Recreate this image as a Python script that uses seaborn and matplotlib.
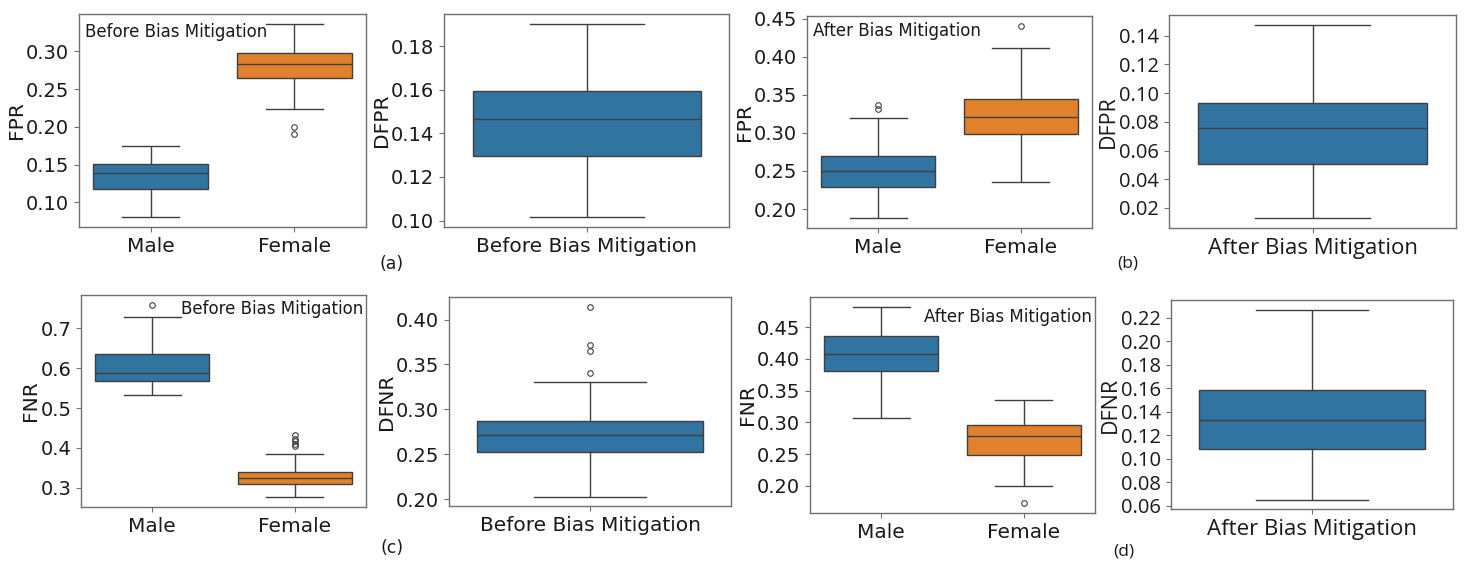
import matplotlib
matplotlib.use('Agg')
import matplotlib.pyplot as plt
import seaborn as sns
import pandas as pd
from matplotlib.ticker import MultipleLocator

# ---------------- data ----------------
genders = ['Male', 'Female']
before_label = 'Before Bias Mitigation'
after_label = 'After Bias Mitigation'

# (a) FPR before mitigation
fpr_before_male = [0.080, 0.098, 0.109, 0.117, 0.124, 0.132, 0.139, 0.143, 0.147, 0.151, 0.158, 0.166, 0.174]
fpr_before_female = [0.190, 0.1995, 0.2234, 0.2645, 0.270, 0.277, 0.2827, 0.287, 0.293, 0.2983, 0.310, 0.322, 0.3368]
dfpr_before = [0.1015, 0.112, 0.121, 0.1298, 0.135, 0.141, 0.1467, 0.151, 0.155, 0.1592, 0.168, 0.178, 0.1903]

# (b) FPR after mitigation
fpr_after_male = [0.1877, 0.205, 0.218, 0.2293, 0.236, 0.243, 0.2504, 0.256, 0.262, 0.2692, 0.3197, 0.332, 0.337]
fpr_after_female = [0.2359, 0.262, 0.281, 0.2987, 0.306, 0.314, 0.3214, 0.329, 0.337, 0.3447, 0.372, 0.4113, 0.4412]
dfpr_after = [0.0128, 0.027, 0.040, 0.0504, 0.059, 0.068, 0.0759, 0.082, 0.088, 0.0931, 0.108, 0.126, 0.1477]

# (c) FNR before mitigation
fnr_before_male = [0.5328, 0.548, 0.559, 0.568, 0.575, 0.582, 0.589, 0.603, 0.618, 0.6345, 0.672, 0.7286, 0.7597]
fnr_before_female = [0.2756, 0.283, 0.290, 0.296, 0.301, 0.305, 0.3084, 0.311, 0.314, 0.317, 0.320, 0.322,
                     0.3244, 0.327, 0.330, 0.333, 0.335, 0.337, 0.3395, 0.384, 0.404, 0.410, 0.416, 0.423, 0.433]
dfnr_before = [0.2030, 0.222, 0.234, 0.242, 0.248, 0.2530, 0.257, 0.261, 0.265, 0.268, 0.271, 0.274, 0.277,
               0.280, 0.283, 0.2868, 0.3309, 0.3401, 0.3654, 0.3717, 0.4145]

# (d) FNR after mitigation
fnr_after_male = [0.3074, 0.338, 0.362, 0.3816, 0.390, 0.399, 0.4074, 0.416, 0.426, 0.4368, 0.449, 0.463, 0.4821]
fnr_after_female = [0.1726, 0.199, 0.228, 0.2479, 0.258, 0.268, 0.2779, 0.284, 0.290, 0.2963, 0.309, 0.322, 0.3353]
dfnr_after = [0.0654, 0.083, 0.097, 0.1081, 0.116, 0.125, 0.1328, 0.140, 0.149, 0.1585, 0.180, 0.203, 0.2271]

# ---------------- figure ----------------
W, H = 1470, 572
fig = plt.figure(figsize=(W / 100, H / 100), dpi=100)

SPINE = '#707070'
TXT = '#1a1a1a'


def add_ax(l, t, r, b):
    return fig.add_axes([l / W, 1 - b / H, (r - l) / W, (b - t) / H])


def style(ax, step, fs=14, xfs=14, family=None):
    for s in ax.spines.values():
        s.set_color(SPINE)
        s.set_linewidth(1.0)
    ax.tick_params(colors=SPINE, labelcolor=TXT, labelsize=fs, length=3.5, width=0.8)
    ax.tick_params(axis='x', labelsize=xfs)
    ax.yaxis.set_major_locator(MultipleLocator(step))
    if family:
        for lab in ax.get_xticklabels() + ax.get_yticklabels():
            lab.set_family(family)


def gender_panel(ax, male, female, ylabel, step, note, note_loc, dy):
    df = pd.DataFrame({'Gender': ['Male'] * len(male) + ['Female'] * len(female),
                       ylabel: male + female})
    sns.boxplot(data=df, x='Gender', y=ylabel, hue='Gender', order=genders, hue_order=genders,
                legend=False, ax=ax, linewidth=1,
                flierprops=dict(markersize=4, markeredgewidth=0.8))
    ax.set_xlabel('')
    ax.set_ylabel(ylabel, fontsize=14.5, color=TXT, labelpad=0)
    style(ax, step, fs=14, xfs=14.5)
    if note_loc == 'left':
        ax.annotate(note, xy=(0, 1), xycoords='axes fraction', xytext=(6, -dy),
                    textcoords='offset pixels', ha='left', va='center', fontsize=12, color=TXT)
    else:
        ax.annotate(note, xy=(1, 1), xycoords='axes fraction', xytext=(-3, -dy),
                    textcoords='offset pixels', ha='right', va='center', fontsize=12, color=TXT)


def single_panel(ax, vals, group, ylabel, step, family=None, fs=14, xfs=14.5, yfs=14.5):
    df = pd.DataFrame({'Group': [group] * len(vals), ylabel: vals})
    sns.boxplot(data=df, x='Group', y=ylabel, ax=ax, linewidth=1,
                flierprops=dict(markersize=4, markeredgewidth=0.8))
    ax.set_xlabel('')
    ax.set_ylabel(ylabel, fontsize=yfs, color=TXT, labelpad=0, family=family)
    style(ax, step, fs=fs, xfs=xfs, family=family)


ax1 = add_ax(79, 14, 366, 227)
gender_panel(ax1, fpr_before_male, fpr_before_female, 'FPR', 0.05, before_label, 'left', 18)

ax2 = add_ax(444, 14, 729, 227)
single_panel(ax2, dfpr_before, before_label, 'DFPR', 0.02)

ax3 = add_ax(807, 16, 1092, 228)
gender_panel(ax3, fpr_after_male, fpr_after_female, 'FPR', 0.05, after_label, 'left', 15)

ax4 = add_ax(1169, 15, 1456, 228)
single_panel(ax4, dfpr_after, after_label, 'DFPR', 0.02, family='Open Sans', fs=14.5, xfs=16, yfs=15.5)

ax5 = add_ax(81, 295, 366, 507)
gender_panel(ax5, fnr_before_male, fnr_before_female, 'FNR', 0.1, before_label, 'right', 14)

ax6 = add_ax(449, 297, 731, 506)
single_panel(ax6, dfnr_before, before_label, 'DFNR', 0.05)

ax7 = add_ax(810, 297, 1095, 513)
gender_panel(ax7, fnr_after_male, fnr_after_female, 'FNR', 0.05, after_label, 'right', 20)

ax8 = add_ax(1171, 300, 1453, 509)
single_panel(ax8, dfnr_after, after_label, 'DFNR', 0.02, family='Open Sans', fs=14.5, xfs=16, yfs=15.5)

# panel letters
for txt, x, y in [('(a)', 392, 264), ('(b)', 1128, 264), ('(c)', 392, 548), ('(d)', 1124, 551)]:
    fig.text(x / W, 1 - y / H, txt, ha='center', va='center', fontsize=12.5, color=TXT,
             family='Open Sans' if txt in ('(b)', '(d)') else None)

fig.savefig('out.png', dpi=100)
